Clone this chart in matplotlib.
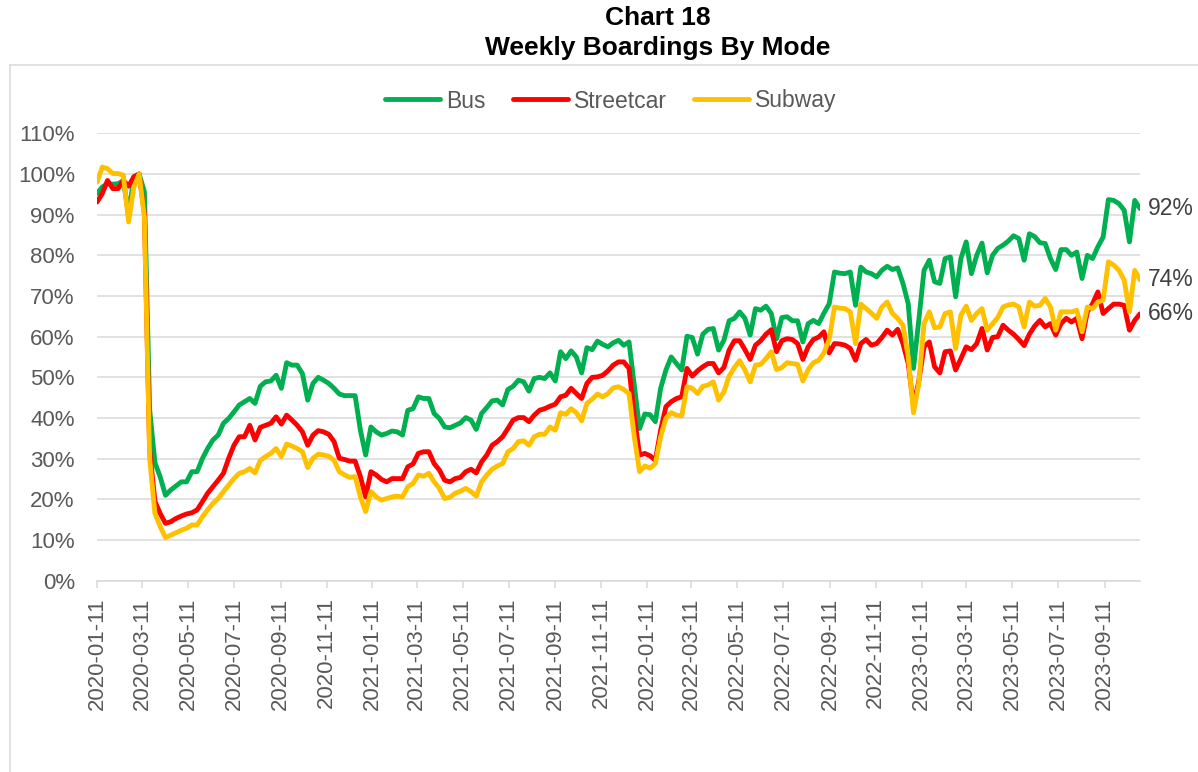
import matplotlib
matplotlib.use("Agg")
import matplotlib.pyplot as plt
import matplotlib.dates as mdates
import pandas as pd
from matplotlib.lines import Line2D

plt.rcParams['font.family'] = ['Liberation Sans', 'DejaVu Sans']

# weekly boardings as % of pre-pandemic, one value per week from 2020-01-11
start_week = '2020-01-11'

bus = [95.2, 96.8, 97.6, 97.5, 97.6, 98.4, 90.0, 99.3, 100.0, 95.6,
       42.0, 29.0, 25.5, 21.0, 22.3, 23.3, 24.3, 24.3, 26.8, 26.8,
       30.0, 32.5, 34.6, 35.8, 38.7, 39.9, 41.5, 43.2, 44.0, 44.8,
       43.6, 47.8, 48.9, 49.1, 50.5, 47.3, 53.6, 53.0, 53.0, 50.9,
       44.4, 48.5, 50.0, 49.3, 48.5, 47.3, 45.9, 45.5, 45.5, 45.5,
       37.0, 30.9, 37.8, 36.6, 35.8, 36.2, 36.8, 36.6, 35.8, 41.9,
       42.3, 45.2, 44.8, 44.8, 41.1, 39.9, 37.8, 37.6, 38.2, 38.8,
       40.1, 39.5, 37.2, 41.1, 42.6, 44.2, 44.4, 43.2, 47.0, 47.8,
       49.3, 48.9, 46.6, 49.7, 50.0, 49.7, 51.1, 49.1, 56.3, 54.6,
       56.5, 55.0, 51.1, 57.3, 56.8, 58.9, 58.1, 57.5, 58.5, 59.1,
       57.9, 58.7, 48.0, 37.4, 41.0, 40.8, 39.1, 47.3, 51.8, 55.0,
       53.4, 51.8, 60.1, 59.8, 55.7, 60.6, 61.8, 62.0, 56.7, 59.1,
       63.9, 64.5, 66.1, 64.5, 60.4, 66.9, 66.5, 67.5, 65.7, 59.5,
       64.7, 64.9, 63.9, 63.9, 58.7, 63.2, 64.0, 63.2, 65.8, 68.1,
       75.9, 75.6, 75.5, 75.9, 67.7, 77.1, 75.9, 75.5, 74.7, 76.3,
       77.3, 76.5, 76.9, 73.1, 68.1, 52.2, 64.0, 76.3, 78.8, 73.5,
       73.1, 79.2, 79.6, 69.8, 79.2, 83.3, 75.5, 80.0, 83.0, 75.7,
       80.0, 81.7, 82.5, 83.5, 84.8, 84.1, 78.8, 85.3, 84.6, 83.1,
       82.9, 79.2, 76.5, 81.4, 81.4, 80.0, 80.8, 74.3, 80.0, 79.2,
       82.1, 84.5, 93.7, 93.5, 92.7, 91.1, 83.3, 93.5, 91.5]

streetcar = [93.1, 95.2, 98.4, 96.4, 96.4, 98.4, 97.0, 99.3, 100.0, 90.3,
             32.0, 19.5, 16.5, 14.1, 14.5, 15.3, 15.9, 16.4, 16.7, 17.4,
             19.4, 21.5, 23.1, 24.7, 26.4, 30.1, 33.3, 35.4, 35.4, 38.2,
             34.6, 37.7, 38.2, 38.7, 40.3, 38.5, 40.7, 39.5, 38.2, 36.6,
             33.3, 35.8, 36.9, 36.6, 36.0, 34.2, 30.1, 29.8, 29.4, 29.4,
             25.6, 20.6, 26.8, 26.0, 24.9, 24.3, 25.1, 25.1, 25.1, 28.0,
             28.7, 31.3, 31.7, 31.7, 28.8, 27.2, 24.7, 24.3, 25.1, 25.4,
             26.8, 27.4, 26.5, 29.2, 30.9, 33.3, 34.2, 35.4, 37.4, 39.5,
             40.1, 40.1, 39.1, 40.7, 41.9, 42.3, 42.9, 43.4, 45.2, 45.6,
             47.3, 46.0, 44.8, 48.5, 50.0, 50.1, 50.5, 51.6, 53.0, 53.8,
             53.8, 52.2, 40.3, 30.9, 31.3, 30.7, 29.6, 37.0, 42.8, 44.0,
             44.8, 45.2, 52.2, 50.3, 51.6, 52.6, 53.4, 53.4, 51.1, 52.4,
             56.7, 59.0, 59.0, 56.8, 54.4, 57.9, 59.0, 60.6, 61.7, 56.3,
             59.0, 59.5, 59.3, 58.3, 54.4, 57.5, 59.3, 59.9, 61.2, 56.0,
             58.3, 58.2, 57.9, 57.1, 54.2, 58.3, 59.3, 57.9, 58.3, 59.8,
             61.6, 60.4, 61.8, 58.3, 53.4, 43.0, 49.0, 57.5, 58.7, 52.6,
             51.1, 56.3, 56.5, 51.8, 54.6, 57.5, 56.8, 58.3, 62.0, 56.7,
             59.8, 60.0, 62.8, 61.6, 60.6, 59.3, 57.8, 60.6, 62.6, 64.0,
             62.4, 63.2, 60.4, 63.2, 64.5, 63.6, 64.5, 59.5, 66.1, 68.1,
             71.0, 65.7, 66.9, 68.0, 68.0, 67.7, 61.6, 64.0, 65.6]

subway = [98.0, 101.7, 101.3, 100.1, 100.1, 99.7, 88.2, 96.8, 100.0, 89.4,
          30.0, 16.5, 13.3, 10.6, 11.2, 11.8, 12.4, 12.9, 13.7, 13.7,
          15.7, 17.4, 19.0, 20.2, 21.9, 23.5, 25.1, 26.4, 26.8, 27.6,
          26.5, 29.6, 30.5, 31.3, 32.5, 30.5, 33.6, 33.1, 32.5, 31.7,
          27.8, 30.1, 31.1, 30.9, 30.6, 29.6, 26.8, 26.0, 25.4, 25.6,
          20.6, 17.0, 21.9, 20.6, 19.8, 20.2, 20.6, 20.8, 20.6, 23.1,
          23.9, 26.0, 25.7, 26.4, 24.3, 22.7, 20.2, 20.5, 21.5, 22.0,
          22.7, 21.9, 20.8, 24.3, 26.0, 27.4, 28.2, 28.8, 31.7, 32.5,
          34.2, 34.4, 33.3, 35.4, 36.0, 36.0, 37.8, 37.0, 41.3, 40.9,
          42.3, 41.3, 39.3, 43.6, 44.6, 45.9, 45.2, 46.0, 47.4, 47.7,
          47.0, 46.0, 35.4, 26.8, 28.2, 27.7, 28.8, 35.4, 39.9, 41.3,
          40.7, 40.5, 47.7, 47.3, 46.0, 47.8, 48.1, 48.9, 44.4, 46.4,
          50.3, 52.4, 54.1, 51.8, 48.9, 53.0, 53.2, 54.6, 56.3, 51.9,
          52.4, 53.6, 53.4, 53.2, 49.1, 51.9, 53.6, 54.2, 56.0, 59.3,
          67.3, 67.0, 66.9, 66.1, 58.3, 68.0, 66.9, 65.8, 64.5, 67.3,
          68.5, 65.7, 64.5, 62.8, 55.0, 41.3, 48.5, 63.2, 66.1, 62.2,
          62.4, 65.7, 66.1, 57.1, 65.3, 67.5, 64.0, 65.7, 66.9, 61.6,
          63.2, 64.7, 67.3, 67.8, 68.0, 67.3, 62.4, 68.5, 67.5, 67.7,
          69.4, 67.3, 61.6, 66.1, 66.1, 66.1, 66.5, 61.2, 67.3, 66.9,
          68.5, 69.0, 78.4, 77.6, 76.3, 73.9, 66.1, 76.3, 74.0]

series_names = ['Bus', 'Streetcar', 'Subway']
series_colors = ['#00B050', '#FF0000', '#FFC000']

weeks = pd.date_range(start_week, periods=len(bus), freq='7D')
tick_dates = [pd.Timestamp(start_week) + pd.DateOffset(months=2 * k) for k in range(23)]

W, H = 1198, 772
fig = plt.figure(figsize=(W / 100, H / 100), dpi=100)
ax = fig.add_axes([97 / W, 1 - 580.7 / H, (1140 - 97) / W, (580.7 - 133.3) / H])

for vals, name, col in zip([bus, streetcar, subway], series_names, series_colors):
    ax.plot(weeks, vals, color=col, lw=3.5, label=name,
            solid_joinstyle='round', solid_capstyle='round')

# end labels
for vals in [bus, subway, streetcar]:
    ax.annotate('%d%%' % round(vals[-1]), xy=(weeks[-1], vals[-1]),
                xytext=(6, 0), textcoords='offset points', va='center', ha='left',
                fontsize=16.5, color='#404040', annotation_clip=False)

ax.set_xlim(weeks[0], weeks[-1])
ax.set_ylim(0, 110)
ax.set_yticks(range(0, 111, 10))
ax.yaxis.set_major_formatter(plt.FuncFormatter(lambda v, p: '%d%%' % v))
ax.set_xticks(tick_dates)
ax.xaxis.set_major_formatter(mdates.DateFormatter('%Y-%m-%d'))

ax.yaxis.grid(True, color='#D9D9D9', lw=1.1)
ax.set_axisbelow(True)
for s in ['top', 'right', 'left']:
    ax.spines[s].set_visible(False)
ax.spines['bottom'].set_color('#D9D9D9')
ax.spines['bottom'].set_linewidth(1.1)

ax.tick_params(axis='y', length=0, pad=16, labelsize=16, labelcolor='#595959')
ax.tick_params(axis='x', length=5, width=1.1, color='#D9D9D9', pad=7,
               labelsize=16, labelcolor='#595959', labelrotation=90)

fig.text(658 / W, 1 - 18 / H, 'Chart 18', ha='center', va='center',
         fontsize=19, fontweight='bold', color='black')
fig.text(658 / W, 1 - 48 / H, 'Weekly Boardings By Mode', ha='center', va='center',
         fontsize=19, fontweight='bold', color='black')

leg = fig.legend(loc='center', bbox_to_anchor=(611 / W, 1 - 101 / H), ncol=3,
                 frameon=False, fontsize=16.5, handlelength=2.4, handletextpad=0.25,
                 columnspacing=1.2)
for t in leg.get_texts():
    t.set_color('#595959')

# chart area border
fig.add_artist(Line2D([10 / W, 10 / W], [0, 1 - 65 / H], color='#D9D9D9', lw=1.1))
fig.add_artist(Line2D([10 / W, 1], [1 - 65 / H, 1 - 65 / H], color='#D9D9D9', lw=1.1))

fig.savefig('out.png', dpi=100)
